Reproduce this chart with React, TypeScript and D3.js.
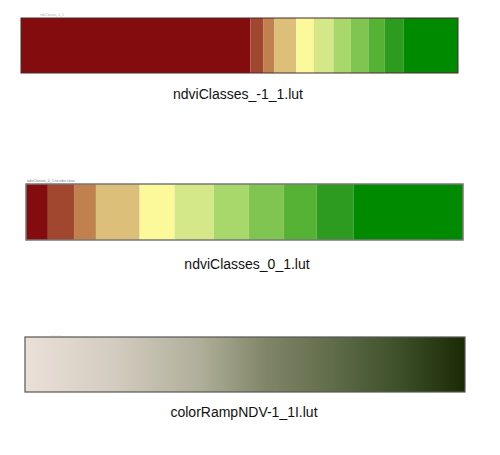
import React from "react";
import * as d3 from "d3";

// class breaks (ndvi values) shared by both .lut tables
const classBreaks = [0.05, 0.11, 0.16, 0.26, 0.34, 0.43, 0.51, 0.59, 0.665, 0.75];
const classColors = [
  "#820c0e",
  "#a2472f",
  "#c1814f",
  "#dcbf79",
  "#fcf99a",
  "#d5e889",
  "#a8d86b",
  "#80c552",
  "#55b234",
  "#2d9b1f",
  "#008a00",
];

// colour ramp stops for colorRampNDV-1_1I.lut
const rampOffsets = [0, 0.2, 0.4, 0.55, 0.7, 0.85, 1];
const rampColors = ["#ebe0d8", "#d3ccc0", "#afae99", "#808567", "#606c4a", "#3d5029", "#1a2a05"];

const labels = ["ndviClasses_-1_1.lut", "ndviClasses_0_1.lut", "colorRampNDV-1_1I.lut"];

const W = 500;
const H = 455;

function ClassBar({ domain, x0, x1, y, h, stroke, strokeWidth }) {
  const x = d3.scaleLinear().domain(domain).range([x0, x1]);
  const edges = [domain[0], ...classBreaks, domain[1]];
  return (
    <g>
      {classColors.map((c, i) => (
        <rect
          key={i}
          x={x(edges[i])}
          y={y}
          width={x(edges[i + 1]) - x(edges[i])}
          height={h}
          fill={c}
        />
      ))}
      <rect x={x0} y={y} width={x1 - x0} height={h} fill="none" stroke={stroke} strokeWidth={strokeWidth} />
    </g>
  );
}

export default function App() {
  const ramp = d3.scaleLinear().domain([-1, 1]).range([25, 465]);
  return (
    <svg
      width={W}
      height={H}
      style={{ position: "absolute", left: 0, top: 0, background: "#fff" }}
      fontFamily="'Liberation Sans', Arial, sans-serif"
    >
      <defs>
        <linearGradient id="ramp" x1="0" x2="1" y1="0" y2="0">
          {rampOffsets.map((o, i) => (
            <stop key={i} offset={o} stopColor={rampColors[i]} />
          ))}
        </linearGradient>
      </defs>

      {/* bar 1 */}
      <text x={40} y={16} fontSize={3} fill="#aaa">
        ndviClasses_-1_1
      </text>
      <ClassBar domain={[-1, 1]} x0={21} x1={458} y={18} h={55} stroke="#4a2a2a" strokeWidth={1} />
      <text x={238} y={99} fontSize={14} textAnchor="middle" fill="#111">
        {labels[0]}
      </text>

      {/* bar 2 */}
      <text x={27} y={182} fontSize={3.5} fill="#777">
        ndviClasses_0_1.lut ndvi class
      </text>
      <ClassBar domain={[0, 1]} x0={26} x1={463} y={184} h={56} stroke="#777" strokeWidth={1.5} />
      <text x={247} y={269} fontSize={14} textAnchor="middle" fill="#111">
        {labels[1]}
      </text>

      {/* bar 3 */}
      <text x={50} y={336} fontSize={3} fill="#888">
        .  .  .  .  .  .  .
      </text>
      <rect
        x={ramp(-1)}
        y={337}
        width={ramp(1) - ramp(-1)}
        height={55}
        fill="url(#ramp)"
        stroke="#555"
        strokeWidth={1.2}
      />
      <text x={244} y={417} fontSize={14} textAnchor="middle" fill="#111">
        {labels[2]}
      </text>
    </svg>
  );
}
